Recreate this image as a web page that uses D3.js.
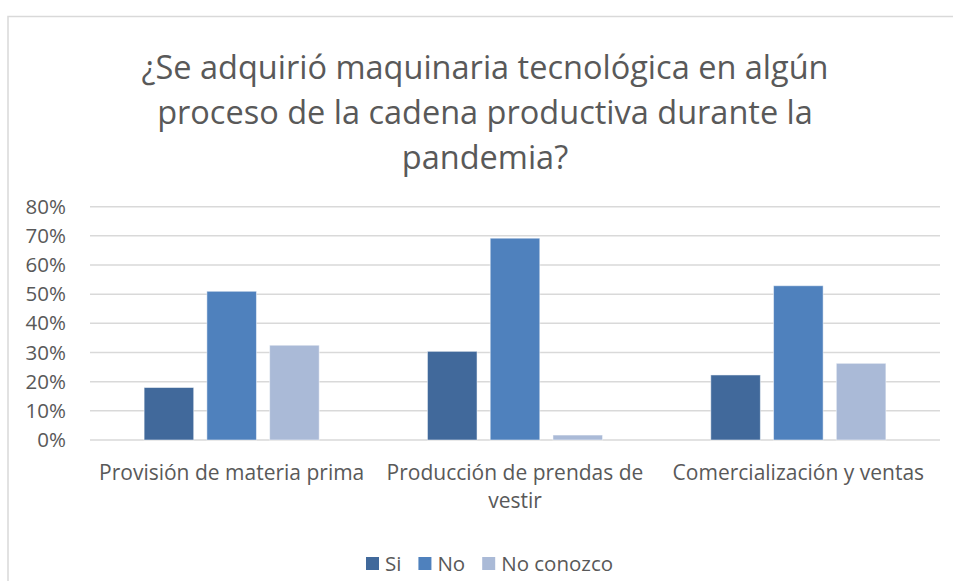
<!DOCTYPE html>
<html>
<head>
<meta charset="utf-8">
<style>
  body { margin: 0; background: #fff; font-family: 'Open Sans', sans-serif; }
  .axis .domain, .axis .tick line { display: none; }
  .axis text { fill: #595959; }
</style>
</head>
<body>
<svg width="953" height="581"></svg>
<script src="https://d3js.org/d3.v7.min.js"></script>
<script>
var categories = ["Provisión de materia prima", "Producción de prendas de vestir", "Comercialización y ventas"];
var series = ["Si", "No", "No conozco"];
var si = [0.18, 0.304, 0.223];
var no = [0.51, 0.692, 0.529];
var noConozco = [0.325, 0.017, 0.263];
var yTicks = [0, 0.1, 0.2, 0.3, 0.4, 0.5, 0.6, 0.7, 0.8];
var titleLines = ["¿Se adquirió maquinaria tecnológica en algún", "proceso de la cadena productiva durante la", "pandemia?"];

var values = { "Si": si, "No": no, "No conozco": noConozco };
var data = categories.map(function(c, i) {
  var d = { cat: c };
  series.forEach(function(s) { d[s] = values[s][i]; });
  return d;
});

var svg = d3.select("svg"),
    margin = {top: 206.7, left: 90, right: 13, bottom: 141},
    width = 953 - margin.left - margin.right,
    height = 581 - margin.top - margin.bottom;

// chart frame (cut off on the right and bottom)
svg.append("path")
    .attr("d", "M8,581 V16.5 H953")
    .attr("fill", "none")
    .attr("stroke", "#d9d9d9")
    .attr("stroke-width", 1.5);

var title = svg.append("text")
    .attr("text-anchor", "middle")
    .attr("fill", "#595959")
    .attr("font-size", 32.5);
titleLines.forEach(function(t, i) {
  title.append("tspan").attr("x", 485).attr("y", 79 + i * 45).text(t);
});

var g = svg.append("g").attr("transform", "translate(" + margin.left + "," + margin.top + ")");

var x0 = d3.scaleBand()
    .domain(categories)
    .range([0, width])
    .paddingInner(0.382)
    .paddingOuter(0.191);

var x1 = d3.scaleBand()
    .domain(series)
    .range([0, x0.bandwidth()])
    .paddingInner(0.21)
    .paddingOuter(0);

var y = d3.scaleLinear()
    .domain([0, 0.8])
    .range([height, 0]);

var z = d3.scaleOrdinal()
    .domain(series)
    .range(["#41699b", "#4f81bd", "#aabad7"]);

// gridlines
g.append("g")
  .selectAll("line")
  .data(yTicks)
  .enter().append("line")
    .attr("x1", 0)
    .attr("x2", width)
    .attr("y1", function(d) { return y(d); })
    .attr("y2", function(d) { return y(d); })
    .attr("stroke", "#d9d9d9")
    .attr("stroke-width", 1.5);

g.append("g")
  .selectAll("g")
  .data(data)
  .enter().append("g")
    .attr("transform", function(d) { return "translate(" + x0(d.cat) + ",0)"; })
  .selectAll("rect")
  .data(function(d) { return series.map(function(s) { return {key: s, value: d[s]}; }); })
  .enter().append("rect")
    .attr("x", function(d) { return x1(d.key); })
    .attr("y", function(d) { return y(d.value); })
    .attr("width", x1.bandwidth())
    .attr("height", function(d) { return height - y(d.value); })
    .attr("fill", function(d) { return z(d.key); })
    .attr("stroke", "#ffffff")
    .attr("stroke-opacity", 0.5)
    .attr("stroke-width", 1);

g.append("g")
    .attr("class", "axis")
    .call(d3.axisLeft(y).tickValues(yTicks).tickFormat(d3.format(".0%")).tickSize(0).tickPadding(24))
    .selectAll("text")
    .attr("font-size", 20.5)
    .attr("font-family", "'Open Sans', sans-serif");

var xAxis = g.append("g")
    .attr("class", "axis")
    .attr("transform", "translate(0," + height + ")")
    .call(d3.axisBottom(x0).tickSize(0).tickPadding(25));

xAxis.selectAll("text")
    .attr("font-size", 21)
    .attr("font-family", "'Open Sans', sans-serif")
    .call(wrap, x0.step());

function wrap(text, w) {
  text.each(function() {
    var t = d3.select(this),
        words = t.text().split(/\s+/),
        line = [],
        lineNo = 0,
        yy = t.attr("y"),
        dy = parseFloat(t.attr("dy")),
        tspan = t.text(null).append("tspan").attr("x", 0).attr("y", yy).attr("dy", dy + "em");
    words.forEach(function(word) {
      line.push(word);
      tspan.text(line.join(" "));
      if (tspan.node().getComputedTextLength() > w - 6 && line.length > 1) {
        line.pop();
        tspan.text(line.join(" "));
        line = [word];
        tspan = t.append("tspan").attr("x", 0).attr("y", yy)
          .attr("dy", (++lineNo * 1.33 + dy) + "em").text(word);
      }
    });
  });
}

// legend
var legend = svg.append("g")
    .attr("font-size", 20.5)
    .attr("fill", "#595959");
var lx = 366;
series.forEach(function(s) {
  var item = legend.append("g").attr("transform", "translate(" + lx + ",557)");
  item.append("rect").attr("width", 13).attr("height", 13).attr("fill", z(s));
  var txt = item.append("text").attr("x", 19).attr("y", 14).text(s);
  lx += 19 + txt.node().getComputedTextLength() + 17;
});
</script>
</body>
</html>
